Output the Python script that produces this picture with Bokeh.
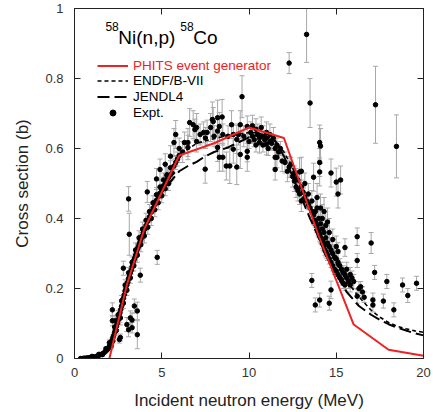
import numpy as np
from bokeh.plotting import figure
from bokeh.models import (ColumnDataSource, Whisker, TeeHead, Legend, LegendItem,
                          LinearAxis, FixedTicker, NumeralTickFormatter, Label, Range1d,
                          CustomJSTickFormatter)
from bokeh.embed import file_html
from bokeh.resources import INLINE

# ---------------- data ----------------
phits_e = [2, 3, 4, 6, 8, 10, 12, 14, 16, 18, 20]
phits_xs = [0.0, 0.21, 0.37, 0.58, 0.615, 0.66, 0.63, 0.35, 0.097, 0.025, 0.008]

endf_e = [0.4, 0.8, 1.2, 1.5, 1.75, 2.0, 2.25, 2.5, 2.75, 3.0, 3.25, 3.5, 3.75, 4.0, 4.5, 5.0,
          5.5, 6.0, 6.5, 7.0, 8.0, 9.0, 10.0, 10.5, 11.0, 11.5, 12.0, 12.5, 13.0, 13.5, 14.0,
          14.5, 15.0, 15.5, 16.0, 16.5, 17.0, 17.5, 18.0, 18.5, 19.0, 19.5, 20.0]
endf_xs = [0.0, 0.001, 0.004, 0.01, 0.018, 0.033, 0.065, 0.11, 0.16, 0.21, 0.255, 0.3, 0.34, 0.375,
           0.435, 0.485, 0.53, 0.578, 0.598, 0.615, 0.628, 0.64, 0.645, 0.645, 0.635, 0.62, 0.59,
           0.545, 0.49, 0.43, 0.37, 0.32, 0.27, 0.23, 0.195, 0.165, 0.138, 0.118, 0.103, 0.092,
           0.085, 0.079, 0.075]

jendl_e = [0.4, 0.8, 1.2, 1.5, 1.75, 2.0, 2.25, 2.5, 2.75, 3.0, 3.25, 3.5, 3.75, 4.0, 4.5, 5.0,
           5.5, 6.0, 6.5, 7.0, 7.5, 8.0, 8.8, 9.5, 10.0, 10.5, 11.0, 11.5, 12.0, 12.5, 13.0,
           13.5, 14.0, 14.5, 15.0, 15.6, 16.3, 17.0, 17.5, 18.0, 18.5, 19.0, 19.5, 20.0]
jendl_xs = [0.0, 0.001, 0.004, 0.01, 0.019, 0.035, 0.065, 0.11, 0.16, 0.21, 0.255, 0.295, 0.335,
            0.37, 0.43, 0.475, 0.505, 0.535, 0.55, 0.562, 0.578, 0.59, 0.603, 0.62, 0.632, 0.638,
            0.636, 0.622, 0.578, 0.52, 0.46, 0.4, 0.345, 0.29, 0.24, 0.19, 0.15, 0.125, 0.11,
            0.098, 0.088, 0.08, 0.072, 0.066]

# experimental points: low-energy band
low_e = [0.35, 0.45, 0.55, 0.65, 0.75, 0.85, 0.95, 1.05, 1.15, 1.25, 1.35, 1.45, 1.55, 1.65, 1.75, 1.85,
         1.9, 1.95, 2.0, 2.05, 2.1, 2.15, 2.2, 2.25, 2.3, 2.35, 2.4, 2.45, 2.5, 2.55, 2.6, 2.65, 2.7,
         2.75, 2.8, 2.85, 2.9, 2.95, 3.0, 3.05, 3.1, 3.15, 3.2, 3.25, 3.3, 3.35, 3.4, 3.45, 3.5, 3.55,
         3.6, 3.65, 3.7, 3.75, 3.8, 3.85, 3.9, 3.95,
         4.0, 4.1, 4.2, 4.3, 4.4, 4.5, 4.6, 4.7, 4.8, 4.9, 5.0, 5.1, 5.2, 5.3, 5.4, 5.5]
low_xs = [0.0, 0.0, 0.001, 0.001, 0.002, 0.002, 0.003, 0.004, 0.005, 0.006, 0.008, 0.01, 0.012, 0.015,
          0.019, 0.024,
          0.027, 0.03, 0.035, 0.04, 0.046, 0.052, 0.06, 0.066, 0.075, 0.083, 0.092, 0.1, 0.11, 0.12,
          0.13, 0.14, 0.15, 0.162, 0.172, 0.182, 0.193, 0.2, 0.21, 0.218, 0.228, 0.235, 0.245, 0.252,
          0.262, 0.27, 0.28, 0.287, 0.295, 0.303, 0.312, 0.318, 0.326, 0.333, 0.34, 0.347, 0.352, 0.36,
          0.368, 0.38, 0.392, 0.405, 0.418, 0.43, 0.44, 0.452, 0.462, 0.472, 0.482, 0.492, 0.5, 0.51,
          0.518, 0.525]
low_err = [0.002, 0.002, 0.002, 0.002, 0.002, 0.002, 0.002, 0.003, 0.003, 0.003, 0.003, 0.004, 0.004,
           0.004, 0.005, 0.005,
           0.005, 0.005, 0.006, 0.006, 0.006, 0.006, 0.007, 0.007, 0.007, 0.007, 0.008, 0.008, 0.008,
           0.008, 0.009, 0.009, 0.009, 0.009, 0.01, 0.01, 0.01, 0.01, 0.01, 0.01, 0.01, 0.01, 0.011,
           0.011, 0.011, 0.011, 0.012, 0.012, 0.012, 0.012, 0.012, 0.012, 0.013, 0.013, 0.013, 0.013,
           0.013, 0.013,
           0.014, 0.014, 0.014, 0.015, 0.015, 0.015, 0.015, 0.016, 0.016, 0.016, 0.017, 0.017, 0.017,
           0.018, 0.018, 0.018]

# scatter around the low band and low-energy outliers
scat_e = [1.0, 1.2, 1.4, 1.6, 1.8, 2.0, 2.1, 2.2, 2.3, 2.4, 2.5, 2.6, 2.7, 2.8, 2.9, 3.0, 3.1, 3.2,
          3.3, 3.4, 3.5, 3.6, 3.7, 3.8, 3.9, 4.0, 4.1, 4.2, 4.3, 4.4, 4.5, 4.6, 4.7, 4.8, 4.9, 5.0,
          5.1, 5.2, 5.3, 5.4, 5.5, 5.6, 5.7, 5.8, 5.9, 6.0,
          2.17, 2.17, 2.34, 2.57, 2.63, 2.63, 3.0, 3.1, 3.2, 3.3, 3.3, 3.43, 3.6, 3.6, 3.77, 4.74,
          3.14, 3.1, 4.17, 2.8]
scat_xs = [0.006, 0.003, 0.012, 0.011, 0.028, 0.045, 0.035, 0.05, 0.09, 0.08, 0.125, 0.115, 0.165,
           0.158, 0.21, 0.195, 0.245, 0.23, 0.275, 0.265, 0.31, 0.295, 0.345, 0.325, 0.37, 0.35, 0.395,
           0.375, 0.42, 0.4, 0.445, 0.425, 0.468, 0.445, 0.49, 0.465, 0.51, 0.485, 0.525, 0.5, 0.545,
           0.53, 0.55, 0.56, 0.57, 0.58,
           0.139, 0.108, 0.108, 0.054, 0.06, 0.116, 0.097, 0.082, 0.116, 0.11, 0.088, 0.15, 0.136,
           0.068, 0.238, 0.289, 0.355, 0.456, 0.476, 0.258]
scat_err = [0.003, 0.002, 0.004, 0.004, 0.005, 0.008, 0.006, 0.008, 0.01, 0.01, 0.012, 0.012, 0.015,
            0.015, 0.015, 0.015, 0.015, 0.015, 0.015, 0.015, 0.02, 0.02, 0.02, 0.02, 0.02, 0.02, 0.02,
            0.02, 0.02, 0.02, 0.02, 0.02, 0.02, 0.02, 0.02, 0.02, 0.02, 0.02, 0.02, 0.02, 0.02, 0.02,
            0.02, 0.02, 0.02, 0.02,
            0.02, 0.015, 0.015, 0.01, 0.01, 0.02, 0.02, 0.02, 0.02, 0.02, 0.015, 0.02, 0.025, 0.04,
            0.02, 0.02, 0.06, 0.035, 0.03, 0.02]

# plateau region
mid_e = [4.7, 4.9, 5.1, 5.2, 5.3, 5.5, 5.7, 5.8, 6.0, 6.2, 6.3, 6.5, 6.5, 6.6, 6.8, 6.9, 7.0, 7.0,
         7.2, 7.4, 7.49, 7.5, 7.6, 7.8, 7.9, 7.95, 8.0, 8.2, 8.2, 8.2, 8.3, 8.3, 8.46, 8.5, 8.5, 8.7,
         8.8, 8.9, 9.0, 9.1, 9.1, 9.3, 9.3, 9.4, 9.5, 9.5, 9.6, 9.7, 9.9, 9.9, 9.9, 10.1, 10.2, 10.3,
         10.4, 10.5, 10.6, 10.7, 10.8, 10.9, 11.0, 11.0, 11.2, 11.2, 11.4, 11.6, 11.8,
         10.0, 10.2, 10.4, 10.6, 10.8, 11.0, 11.1, 11.3, 11.5, 11.7]
mid_xs = [0.513, 0.54, 0.493, 0.555, 0.522, 0.578, 0.617, 0.64, 0.6, 0.59, 0.617, 0.617, 0.603, 0.674,
          0.668, 0.654, 0.66, 0.62, 0.64, 0.646, 0.541, 0.63, 0.646, 0.66, 0.683, 0.677, 0.635, 0.688,
          0.65, 0.603, 0.663, 0.575, 0.69, 0.64, 0.575, 0.55, 0.635, 0.55, 0.668, 0.64, 0.598, 0.547,
          0.626, 0.64, 0.668, 0.583, 0.748, 0.635, 0.663, 0.592, 0.575, 0.646, 0.665, 0.625, 0.655,
          0.64, 0.617, 0.66, 0.635, 0.625, 0.646, 0.612, 0.64, 0.62, 0.63, 0.61, 0.6,
          0.62, 0.635, 0.61, 0.63, 0.61, 0.63, 0.6, 0.615, 0.6, 0.59]
mid_err = [0.03, 0.03, 0.025, 0.03, 0.025, 0.03, 0.04, 0.04, 0.03, 0.03, 0.03, 0.04, 0.035, 0.04, 0.04,
           0.03, 0.04, 0.03, 0.03, 0.03, 0.04, 0.03, 0.035, 0.04, 0.05, 0.04, 0.03, 0.05, 0.04, 0.04,
           0.04, 0.04, 0.05, 0.03, 0.04, 0.04, 0.03, 0.05, 0.04, 0.03, 0.04, 0.05, 0.04, 0.03, 0.04,
           0.04, 0.06, 0.03, 0.03, 0.03, 0.04, 0.03, 0.03, 0.02, 0.03, 0.03, 0.03, 0.03, 0.03, 0.02,
           0.03, 0.03, 0.03, 0.02, 0.03, 0.02, 0.02,
           0.02, 0.02, 0.02, 0.02, 0.02, 0.02, 0.02, 0.02, 0.02, 0.02]

# high-energy region and isolated points
high_e = [11.5, 11.5, 11.6, 11.9, 12.06, 12.2, 12.3, 12.5, 12.6, 12.7, 12.7, 12.8, 12.9, 12.9, 13.0,
          13.7, 14.05, 14.05, 14.05, 14.1, 14.7, 15.0, 15.25, 15.1, 12.3, 13.3, 13.5, 17.25, 18.45]
high_xs = [0.575, 0.54, 0.575, 0.564, 0.56, 0.535, 0.547, 0.52, 0.507, 0.513, 0.49, 0.48, 0.47, 0.533,
           0.535, 0.518, 0.533, 0.56, 0.617, 0.607, 0.53, 0.504, 0.51, 0.47, 0.844, 0.926, 0.73,
           0.725, 0.606]
high_err = [0.03, 0.03, 0.03, 0.03, 0.03, 0.03, 0.03, 0.03, 0.03, 0.03, 0.03, 0.03, 0.03, 0.04, 0.04,
            0.04, 0.04, 0.04, 0.05, 0.05, 0.04, 0.04, 0.04, 0.04, 0.03, 0.08, 0.07, 0.11, 0.09]

# falling band
fall_e = [12.4, 12.6, 12.8, 13.0, 13.1, 13.2, 13.3, 13.4, 13.5, 13.6, 13.7, 13.75, 13.8, 13.85, 13.9,
          13.95, 14.0, 14.05, 14.1, 14.15, 14.2, 14.25, 14.3, 14.35, 14.4, 14.45, 14.5, 14.6, 14.7,
          14.8, 14.9, 15.0, 15.1, 15.2, 15.3, 15.4, 15.5,
          13.0, 13.2, 13.4, 13.6, 13.8, 13.9, 14.0, 14.1, 14.2, 14.3, 14.4, 14.5, 14.6, 14.7, 14.8,
          14.9, 15.0, 15.1, 15.2, 15.3, 15.4, 15.5, 15.6, 15.7, 15.8, 14.2, 14.4, 14.6, 14.8, 15.0,
          14.1, 14.3, 13.9, 14.5]
fall_xs = [0.555, 0.53, 0.51, 0.49, 0.475, 0.46, 0.45, 0.44, 0.43, 0.42, 0.41, 0.395, 0.39, 0.38,
           0.375, 0.365, 0.36, 0.35, 0.345, 0.34, 0.33, 0.325, 0.32, 0.31, 0.305, 0.3, 0.295, 0.285,
           0.275, 0.265, 0.255, 0.25, 0.24, 0.232, 0.225, 0.215, 0.21,
           0.45, 0.5, 0.47, 0.45, 0.42, 0.43, 0.4, 0.385, 0.37, 0.36, 0.345, 0.33, 0.32, 0.31, 0.3,
           0.29, 0.285, 0.275, 0.265, 0.255, 0.245, 0.24, 0.23, 0.22, 0.21, 0.4, 0.38, 0.36, 0.34,
           0.32, 0.43, 0.42, 0.46, 0.39]
fall_err = [0.02, 0.02, 0.02, 0.02, 0.015, 0.015, 0.015, 0.015, 0.015, 0.015, 0.015, 0.015, 0.015,
            0.015, 0.015, 0.015, 0.015, 0.015, 0.015, 0.015, 0.015, 0.015, 0.015, 0.015, 0.015, 0.015,
            0.015, 0.015, 0.015, 0.015, 0.015, 0.015, 0.015, 0.015, 0.015, 0.015, 0.015,
            0.03, 0.03, 0.03, 0.03, 0.03, 0.03, 0.03, 0.025, 0.025, 0.025, 0.025, 0.025, 0.025, 0.025,
            0.025, 0.025, 0.025, 0.025, 0.02, 0.02, 0.02, 0.02, 0.02, 0.02, 0.02, 0.04, 0.04, 0.04,
            0.03, 0.03, 0.04, 0.04, 0.04, 0.04]

# tail region
tail_e = [15.1, 15.5, 15.6, 15.8, 15.9, 16.0, 16.2, 16.2, 16.2, 16.3, 16.4, 16.5, 16.6, 17.0, 17.1,
          17.1, 17.2, 17.7, 17.9, 18.3, 18.8, 19.1, 19.6, 13.6, 13.8, 14.05, 14.6, 14.7]
tail_xs = [0.306, 0.317, 0.255, 0.24, 0.23, 0.22, 0.348, 0.28, 0.178, 0.2, 0.205, 0.19, 0.175, 0.33,
           0.167, 0.153, 0.246, 0.164, 0.22, 0.139, 0.21, 0.18, 0.215, 0.223, 0.153, 0.167, 0.158,
           0.196]
tail_err = [0.025, 0.025, 0.02, 0.02, 0.02, 0.02, 0.025, 0.02, 0.02, 0.02, 0.015, 0.015, 0.015, 0.03,
            0.02, 0.02, 0.02, 0.02, 0.02, 0.02, 0.02, 0.02, 0.02, 0.02, 0.02, 0.02, 0.02, 0.025]

x_ticks = [0, 5, 10, 15, 20]
y_ticks = [0, 0.2, 0.4, 0.6, 0.8, 1.0]

# ---------------- figure ----------------
FONT = "Liberation Sans"
RED = "#ee2222"
AX = "#222222"

p = figure(width=433, height=412, x_range=Range1d(0, 20), y_range=Range1d(0, 1),
           output_backend="svg", toolbar_location=None,
           min_border_left=74, min_border_right=10, min_border_top=8, min_border_bottom=51)
p.xgrid.visible = False
p.ygrid.visible = False
p.outline_line_color = AX
p.background_fill_color = "white"
p.border_fill_color = "white"

for ax in (p.xaxis[0], p.yaxis[0]):
    ax.major_tick_in = 6
    ax.major_tick_out = 0
    ax.minor_tick_line_color = None
    ax.axis_line_color = AX
    ax.major_tick_line_color = AX
    ax.major_label_text_font = FONT
    ax.major_label_text_font_size = "13px"
    ax.major_label_text_color = "#333333"
    ax.axis_label_text_font = FONT
    ax.axis_label_text_font_size = "17px"
    ax.axis_label_text_font_style = "normal"
    ax.axis_label_text_color = "#222222"

p.xaxis[0].ticker = FixedTicker(ticks=x_ticks)
p.yaxis[0].ticker = FixedTicker(ticks=y_ticks)
p.xaxis[0].formatter = NumeralTickFormatter(format="0")
p.yaxis[0].formatter = NumeralTickFormatter(format="0.[0]")
p.xaxis[0].axis_label = "Incident neutron energy (MeV)"
p.yaxis[0].axis_label = "Cross section (b)"
p.xaxis[0].major_label_standoff = 9
p.xaxis[0].axis_label_standoff = 11
p.yaxis[0].major_label_standoff = 11
p.yaxis[0].axis_label_standoff = 10

for loc, ticks in (("above", x_ticks), ("right", y_ticks)):
    a = LinearAxis(ticker=FixedTicker(ticks=ticks), major_tick_in=6, major_tick_out=0,
                   minor_tick_line_color=None, axis_line_color=AX, major_tick_line_color=AX,
                   formatter=CustomJSTickFormatter(code="return ''"),
                   major_label_text_font_size="1px", major_label_standoff=0)
    p.add_layout(a, loc)

# experimental data
all_e = np.array(low_e + scat_e + mid_e + high_e + fall_e + tail_e)
all_xs = np.array(low_xs + scat_xs + mid_xs + high_xs + fall_xs + tail_xs)
all_err = np.array(low_err + scat_err + mid_err + high_err + fall_err + tail_err)
src = ColumnDataSource(dict(e=all_e, xs=all_xs, up=all_xs + all_err, lo=np.clip(all_xs - all_err, 0, None)))

GRAY = "#a8a8a8"
wh = Whisker(source=src, base="e", upper="up", lower="lo", dimension="height",
             line_color=GRAY, line_width=1,
             upper_head=TeeHead(size=5, line_color=GRAY, line_width=1),
             lower_head=TeeHead(size=5, line_color=GRAY, line_width=1))
p.add_layout(wh)

r_exp = p.scatter("e", "xs", source=src, size=4.5, color="black")
r_endf = p.line(endf_e, endf_xs, line_color="black", line_width=1.6, line_dash="4 3")
r_jendl = p.line(jendl_e, jendl_xs, line_color="black", line_width=2, line_dash="12 5")
r_phits = p.line(phits_e, phits_xs, line_color=RED, line_width=2)

# one legend per row so the rows can be spaced like the original
legend_rows = [("PHITS event generator", r_phits, RED, 285),
               ("ENDF/B-VII", r_endf, "black", 270),
               ("JENDL4", r_jendl, "black", 254),
               ("Expt.", r_exp, "black", 238)]
for label, rend, col, ypos in legend_rows:
    lg = Legend(items=[LegendItem(label=label, renderers=[rend])], location=(23, ypos),
                label_text_color=col)
    lg.padding = 0
    lg.margin = 0
    lg.spacing = 0
    lg.glyph_width = 31
    lg.glyph_height = 15
    lg.label_height = 15
    lg.label_standoff = 5
    lg.label_text_font = FONT
    lg.label_text_font_size = "13.5px"
    lg.border_line_color = None
    lg.background_fill_alpha = 0
    p.add_layout(lg)

# title
for txt, xx, yy, fs in (("58", 1.77, 0.949, "12px"), ("Ni(n,p)", 2.51, 0.918, "19px"),
                        ("58", 6.06, 0.949, "12px"), ("Co", 6.8, 0.918, "19px")):
    p.add_layout(Label(x=xx, y=yy, text=txt, text_font=FONT, text_font_size=fs,
                       text_baseline="alphabetic", text_color="black"))

open("out.html", "w").write(file_html(p, INLINE))
